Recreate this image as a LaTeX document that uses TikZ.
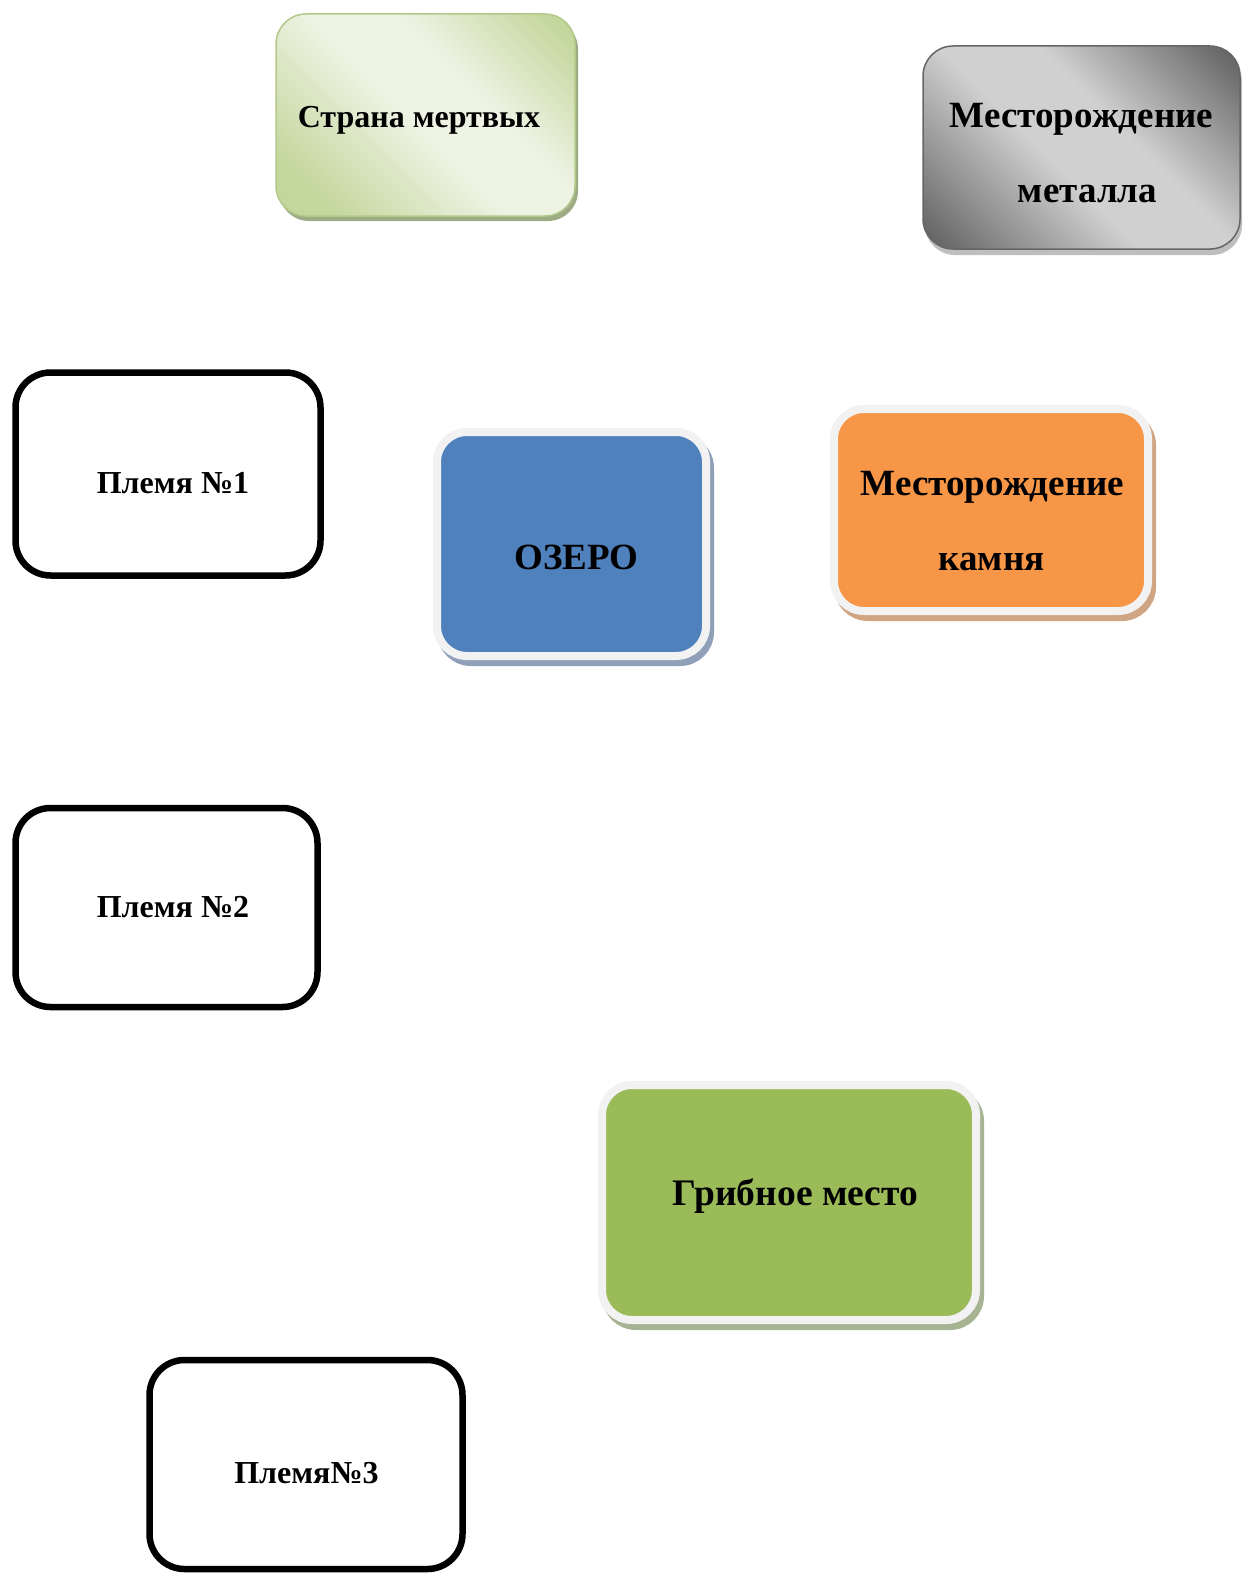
\documentclass[tikz,border=0pt]{standalone}
\usepackage{fontspec}
\setmainfont{Liberation Serif}
\usetikzlibrary{shadows}

% Цвета
\definecolor{ozerosiniy}{HTML}{4F81BD}
\definecolor{kamenoranzh}{HTML}{F79646}
\definecolor{gribzel}{HTML}{9BBB59}
\definecolor{stranazel}{HTML}{C3D69B}
\definecolor{stranasvet}{HTML}{EEF3E4}
\definecolor{stranaramka}{HTML}{B2C98A}
\definecolor{metaltemn}{HTML}{666666}
\definecolor{metalsvet}{HTML}{D0D0D0}
\definecolor{ramka}{HTML}{F2F2F2}
% Тени
\definecolor{tenstrana}{HTML}{9EAC86}
\definecolor{tenmetall}{HTML}{BEBEBE}
\definecolor{tenozero}{HTML}{8FA0B8}
\definecolor{tenkamen}{HTML}{CFA583}
\definecolor{tengriby}{HTML}{A7B493}

% Заливки
\pgfdeclareverticalshading{zalivkastrana}{100bp}{color(0bp)=(stranazel); color(22bp)=(stranazel); color(48bp)=(stranasvet); color(60bp)=(stranasvet); color(82bp)=(stranazel); color(100bp)=(stranazel)}
\pgfdeclareverticalshading{zalivkametall}{100bp}{color(0bp)=(metaltemn); color(17bp)=(metaltemn); color(44bp)=(metalsvet); color(58bp)=(metalsvet); color(83bp)=(metaltemn); color(100bp)=(metaltemn)}

\tikzset{
	plemya/.style={draw=black, line width=6.5pt, rounded corners=35pt, fill=white, inner sep=0pt},
	mesto/.style={draw=ramka, line width=8pt, rounded corners=30pt, inner sep=0pt,
		drop shadow={shadow xshift=4pt, shadow yshift=-6pt, fill=#1, draw=#1, line width=8pt, opacity=1}},
	nadpis/.style={font=\bfseries\fontsize{#1}{#1}\selectfont, anchor=base, inner sep=0pt},
	nadpis/.default=32
}

\begin{document}
\begin{tikzpicture}[x=1pt, y=-1pt]
	\useasboundingbox (0,0) rectangle (1242,1573);
	
	% Страна мертвых
	\node[draw=stranaramka, line width=1.5pt, rounded corners=30pt, inner sep=0pt,
		minimum width=299pt, minimum height=202pt,
		shading=zalivkastrana, shading angle=-45,
		drop shadow={shadow xshift=3pt, shadow yshift=-5pt, fill=tenstrana, opacity=1}]
		(strana) at (425.5,115) {};
	\node[nadpis] (strana-t) at (419,128) {Страна мертвых};
	
	% Месторождение металла
	\node[draw=metaltemn, line width=1.5pt, rounded corners=30pt, inner sep=0pt,
		minimum width=317pt, minimum height=203pt,
		shading=zalivkametall, shading angle=-45,
		drop shadow={shadow xshift=2pt, shadow yshift=-6pt, fill=tenmetall, opacity=1}]
		(metall) at (1081.5,147.5) {};
	\node[nadpis=37] (metall-t1) at (1081.5,128) {Месторождение};
	\node[nadpis=37] (metall-t2) at (1087.5,203) {металла};
	
	% Племена
	\node[plemya, minimum width=305pt, minimum height=203pt] (plemya1) at (168,474) {};
	\node[nadpis] (plemya1-t) at (173,493) {Племя №1};
	\node[plemya, minimum width=302pt, minimum height=199pt] (plemya2) at (166.5,907.5) {};
	\node[nadpis] (plemya2-t) at (173,917) {Племя №2};
	\node[plemya, minimum width=313pt, minimum height=209pt] (plemya3) at (306,1464.5) {};
	\node[nadpis] (plemya3-t) at (306.5,1483) {Племя№3};
	
	% Озеро
	\node[mesto=tenozero, minimum width=269pt, minimum height=224pt, fill=ozerosiniy]
		(ozero) at (571.5,544) {};
	\node[nadpis=37] (ozero-t) at (576.5,569) {ОЗЕРО};
	
	% Месторождение камня
	\node[mesto=tenkamen, minimum width=314pt, minimum height=202pt, fill=kamenoranzh]
		(kamen) at (991,510) {};
	\node[nadpis=37] (kamen-t1) at (992.5,495) {Месторождение};
	\node[nadpis=37] (kamen-t2) at (991.5,570) {камня};
	
	% Грибное место
	\node[mesto=tengriby, minimum width=374pt, minimum height=235pt, fill=gribzel]
		(griby) at (789,1202.5) {};
	\node[nadpis=37.5] (griby-t) at (795.5,1205) {Грибное место};
\end{tikzpicture}
\end{document}
